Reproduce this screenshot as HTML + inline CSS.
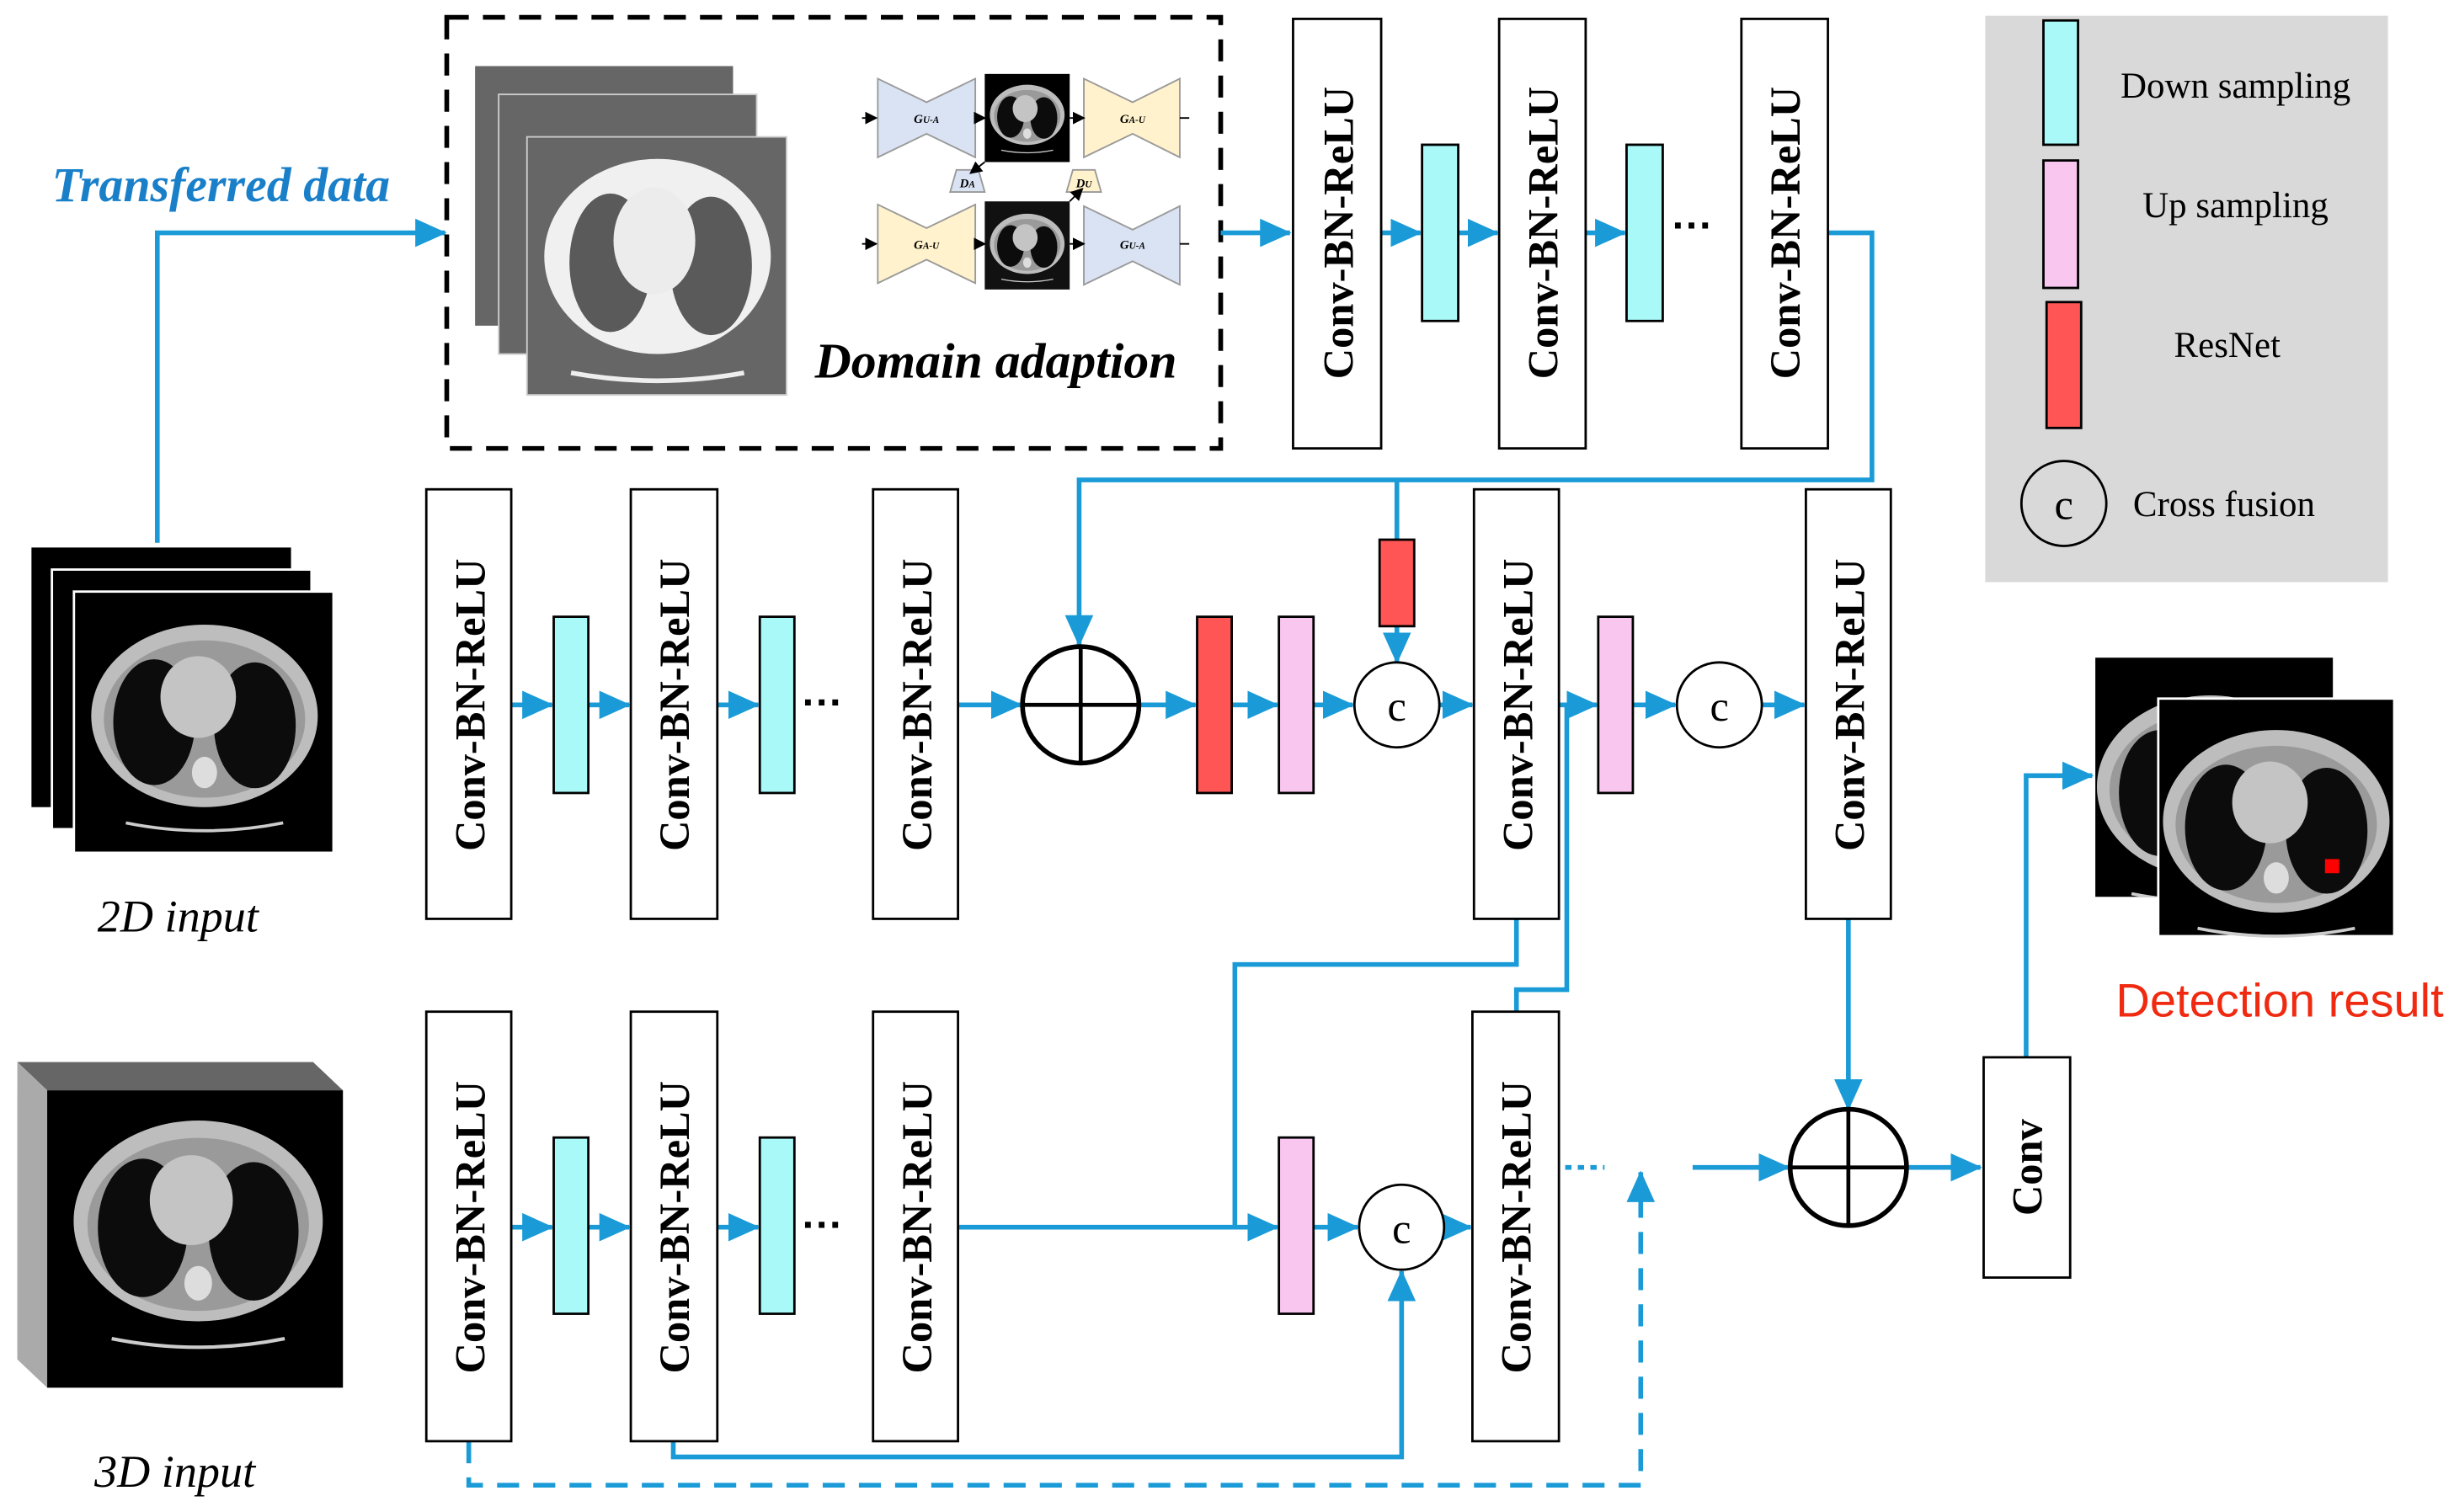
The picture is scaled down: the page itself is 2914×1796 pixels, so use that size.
<!DOCTYPE html>
<html><head><meta charset="utf-8"><style>
html,body{margin:0;padding:0;background:#fff}
svg{display:block}
.t{font-family:"Liberation Serif",serif}
.cb{font-family:"Liberation Serif",serif;font-weight:bold;font-size:27px}
</style></head><body>
<svg width="2914" height="1796" viewBox="0 0 1560 961" preserveAspectRatio="none" xmlns="http://www.w3.org/2000/svg">
<defs>
<marker id="a" markerWidth="10" markerHeight="10" refX="9" refY="5" orient="auto" markerUnits="userSpaceOnUse"><path d="M0,0 L10,5 L0,10 z" fill="#1a9bd7"/></marker>
<marker id="A" markerWidth="20" markerHeight="20" refX="19" refY="10" orient="auto" markerUnits="userSpaceOnUse"><path d="M0,1 L20,10 L0,19 z" fill="#1a9bd7"/></marker>
<marker id="k" markerWidth="8" markerHeight="8" refX="7" refY="4" orient="auto" markerUnits="userSpaceOnUse"><path d="M0,0 L8,4 L0,8 z" fill="#000"/></marker>
<g id="ct">
<ellipse cx="0" cy="0" rx="72" ry="58" fill="#bdbdbd"/>
<ellipse cx="0" cy="2" rx="64" ry="50" fill="#9a9a9a"/>
<ellipse cx="-32" cy="4" rx="26" ry="40" fill="#0c0c0c"/>
<ellipse cx="32" cy="6" rx="26" ry="40" fill="#0c0c0c"/>
<ellipse cx="-4" cy="-12" rx="24" ry="26" fill="#c4c4c4"/>
<ellipse cx="0" cy="36" rx="8" ry="10" fill="#ddd"/>
<path d="M-50,68 Q0,78 50,68" stroke="#ccc" stroke-width="2" fill="none"/>
</g>
<g id="ctl">
<ellipse cx="0" cy="0" rx="72" ry="62" fill="#f0f0f0"/>
<ellipse cx="-30" cy="4" rx="26" ry="44" fill="#5a5a5a"/>
<ellipse cx="34" cy="6" rx="26" ry="44" fill="#5a5a5a"/>
<ellipse cx="-2" cy="-10" rx="26" ry="34" fill="#ececec"/>
<path d="M-55,74 Q0,84 55,74" stroke="#eee" stroke-width="3" fill="none"/>
</g>
</defs>

<!-- Transferred data -->
<text x="33" y="128" class="t" font-size="31" font-style="italic" font-weight="bold" fill="#1a7fc9">Transferred data</text>
<path d="M100,345 V148 H283" stroke="#1a9bd7" stroke-width="3" fill="none" marker-end="url(#A)"/>

<!-- dashed box -->
<rect x="284" y="11" width="492" height="274" fill="none" stroke="#000" stroke-width="3" stroke-dasharray="14,9"/>
<rect x="302" y="42" width="164" height="165" fill="#666"/>
<rect x="317" y="60" width="164" height="165" fill="#666" stroke="#ccc" stroke-width="1"/>
<rect x="335" y="87" width="165" height="164" fill="#666" stroke="#ccc" stroke-width="1"/>
<clipPath id="c1"><rect x="335" y="87" width="165" height="164"/></clipPath>
<g clip-path="url(#c1)"><use href="#ctl" transform="translate(418,163)"/></g>

<!-- mini GAN -->
<g stroke="#999" stroke-width="1">
<path d="M558,50 L589,65 L620,50 L620,100 L589,85 L558,100 Z" fill="#dae3f3"/>
<path d="M689,50 L720,65 L750,50 L750,100 L720,85 L689,100 Z" fill="#fff2cc"/>
<path d="M558,130 L589,145 L620,130 L620,180 L589,165 L558,180 Z" fill="#fff2cc"/>
<path d="M689,131 L720,146 L750,131 L750,181 L720,166 L689,181 Z" fill="#dae3f3"/>
<path d="M608,108 L622,108 L626,122 L604,122 Z" fill="#dae3f3"/>
<path d="M682,108 L696,108 L700,122 L678,122 Z" fill="#fff2cc"/>
</g>
<rect x="626" y="47" width="54" height="56" fill="#000"/>
<rect x="626" y="128" width="54" height="56" fill="#111"/>
<g transform="translate(653,73) scale(0.33)"><use href="#ct"/></g>
<g transform="translate(653,155) scale(0.33)"><use href="#ct"/></g>
<g class="t" font-size="8" font-style="italic" font-weight="bold" text-anchor="middle">
<text x="589" y="78">G<tspan font-size="6">U-A</tspan></text>
<text x="720" y="78">G<tspan font-size="6">A-U</tspan></text>
<text x="589" y="158">G<tspan font-size="6">A-U</tspan></text>
<text x="720" y="158">G<tspan font-size="6">U-A</tspan></text>
<text x="615" y="119">D<tspan font-size="6">A</tspan></text>
<text x="689" y="119">D<tspan font-size="6">U</tspan></text>
</g>
<g stroke="#000" stroke-width="1" fill="none">
<path d="M548,75 H557" marker-end="url(#k)"/><path d="M620,75 H626" marker-end="url(#k)"/><path d="M680,75 H689" marker-end="url(#k)"/><path d="M750,75 H756"/>
<path d="M548,155 H557" marker-end="url(#k)"/><path d="M620,155 H626" marker-end="url(#k)"/><path d="M680,155 H689" marker-end="url(#k)"/><path d="M750,155 H756"/>
<path d="M626,103 L617,110" marker-end="url(#k)"/><path d="M680,128 L688,120" marker-end="url(#k)"/>
</g>
<text x="518" y="240" class="t" font-size="32" font-style="italic" font-weight="bold">Domain adaption</text>

<!-- top row -->
<g stroke="#1a9bd7" stroke-width="3" fill="none">
<path d="M776,148 H820" marker-end="url(#A)"/>
<path d="M878,148 H903" marker-end="url(#A)"/>
<path d="M927,148 H952" marker-end="url(#A)"/>
<path d="M1008,148 H1033" marker-end="url(#A)"/>
<path d="M1162,148 H1190 V305 H686 V410" marker-end="url(#A)"/>
<path d="M888,305 V343"/>
<path d="M888,398 V421" marker-end="url(#A)"/>
</g>
<g fill="#fff" stroke="#000" stroke-width="1.5">
<rect x="822" y="12" width="56" height="273"/>
<rect x="953" y="12" width="55" height="273"/>
<rect x="1107" y="12" width="55" height="273"/>
</g>
<rect x="904" y="92" width="23" height="112" fill="#aaf9f9" stroke="#000" stroke-width="1.5"/>
<rect x="1034" y="92" width="23" height="112" fill="#aaf9f9" stroke="#000" stroke-width="1.5"/>
<text x="1063" y="152" font-family="Liberation Sans" font-weight="bold" font-size="26">···</text>

<!-- middle row -->
<g stroke="#1a9bd7" stroke-width="3" fill="none">
<path d="M325,448 H351" marker-end="url(#A)"/>
<path d="M374,448 H400" marker-end="url(#A)"/>
<path d="M456,448 H482" marker-end="url(#A)"/>
<path d="M609,448 H649" marker-end="url(#A)"/>
<path d="M724,448 H760" marker-end="url(#A)"/>
<path d="M783,448 H812" marker-end="url(#A)"/>
<path d="M835,448 H860" marker-end="url(#A)"/>
<path d="M915,448 H936" marker-end="url(#A)"/>
<path d="M991,448 H1015" marker-end="url(#A)"/>
<path d="M1038,448 H1065" marker-end="url(#A)"/>
<path d="M1120,448 H1147" marker-end="url(#A)"/>
<path d="M964,584 V613 H785 V780"/>
<path d="M964,643 V629 H996 V448"/>
<path d="M1175,584 V705" marker-end="url(#A)"/>
</g>
<g fill="#fff" stroke="#000" stroke-width="1.5">
<rect x="271" y="311" width="54" height="273"/>
<rect x="401" y="311" width="55" height="273"/>
<rect x="555" y="311" width="54" height="273"/>
<rect x="937" y="311" width="54" height="273"/>
<rect x="1148" y="311" width="54" height="273"/>
</g>
<rect x="352" y="392" width="22" height="112" fill="#aaf9f9" stroke="#000" stroke-width="1.5"/>
<rect x="483" y="392" width="22" height="112" fill="#aaf9f9" stroke="#000" stroke-width="1.5"/>
<text x="510" y="455" font-family="Liberation Sans" font-weight="bold" font-size="26">···</text>
<circle cx="687" cy="448" r="37" fill="#fff" stroke="#000" stroke-width="3"/>
<path d="M650,448 H724 M687,411 V485" stroke="#000" stroke-width="2.5"/>
<rect x="761" y="392" width="22" height="112" fill="#ff5555" stroke="#000" stroke-width="1.5"/>
<rect x="877" y="343" width="22" height="55" fill="#ff5555" stroke="#000" stroke-width="1.5"/>
<rect x="813" y="392" width="22" height="112" fill="#f9c6ef" stroke="#000" stroke-width="1.5"/>
<rect x="1016" y="392" width="22" height="112" fill="#f9c6ef" stroke="#000" stroke-width="1.5"/>
<circle cx="888" cy="448" r="27" fill="#fff" stroke="#000" stroke-width="1.5"/>
<circle cx="1093" cy="448" r="27" fill="#fff" stroke="#000" stroke-width="1.5"/>
<text x="888" y="458" class="t" font-size="27" text-anchor="middle">c</text>
<text x="1093" y="458" class="t" font-size="27" text-anchor="middle">c</text>

<!-- bottom row -->
<g stroke="#1a9bd7" stroke-width="3" fill="none">
<path d="M325,780 H351" marker-end="url(#A)"/>
<path d="M374,780 H400" marker-end="url(#A)"/>
<path d="M456,780 H482" marker-end="url(#A)"/>
<path d="M609,780 H812" marker-end="url(#A)"/>
<path d="M835,780 H863" marker-end="url(#A)"/>
<path d="M918,780 H935" marker-end="url(#A)"/>
<path d="M428,916 V926 H891 V808" marker-end="url(#A)"/>
<path d="M298,916 V944 H1043 V745" stroke-dasharray="14,9" marker-end="url(#A)"/>
<path d="M995,742 H1020" stroke-dasharray="4,4"/>
<path d="M1076,742 H1137" marker-end="url(#A)"/>
<path d="M1212,742 H1259" marker-end="url(#A)"/>
<path d="M1288,672 V493 H1330" marker-end="url(#A)"/>
</g>
<g fill="#fff" stroke="#000" stroke-width="1.5">
<rect x="271" y="643" width="54" height="273"/>
<rect x="401" y="643" width="55" height="273"/>
<rect x="555" y="643" width="54" height="273"/>
<rect x="936" y="643" width="55" height="273"/>
<rect x="1261" y="672" width="55" height="140"/>
</g>
<rect x="352" y="723" width="22" height="112" fill="#aaf9f9" stroke="#000" stroke-width="1.5"/>
<rect x="483" y="723" width="22" height="112" fill="#aaf9f9" stroke="#000" stroke-width="1.5"/>
<text x="510" y="787" font-family="Liberation Sans" font-weight="bold" font-size="26">···</text>
<rect x="813" y="723" width="22" height="112" fill="#f9c6ef" stroke="#000" stroke-width="1.5"/>
<circle cx="891" cy="780" r="27" fill="#fff" stroke="#000" stroke-width="1.5"/>
<text x="891" y="790" class="t" font-size="27" text-anchor="middle">c</text>
<circle cx="1175" cy="742" r="37" fill="#fff" stroke="#000" stroke-width="3"/>
<path d="M1138,742 H1212 M1175,705 V779" stroke="#000" stroke-width="2.5"/>

<!-- rotated labels -->
<g class="cb">
<text transform="translate(308,448) rotate(-90)" text-anchor="middle">Conv-BN-ReLU</text>
<text transform="translate(438,448) rotate(-90)" text-anchor="middle">Conv-BN-ReLU</text>
<text transform="translate(592,448) rotate(-90)" text-anchor="middle">Conv-BN-ReLU</text>
<text transform="translate(974,448) rotate(-90)" text-anchor="middle">Conv-BN-ReLU</text>
<text transform="translate(1185,448) rotate(-90)" text-anchor="middle">Conv-BN-ReLU</text>
<text transform="translate(308,780) rotate(-90)" text-anchor="middle">Conv-BN-ReLU</text>
<text transform="translate(438,780) rotate(-90)" text-anchor="middle">Conv-BN-ReLU</text>
<text transform="translate(592,780) rotate(-90)" text-anchor="middle">Conv-BN-ReLU</text>
<text transform="translate(973,780) rotate(-90)" text-anchor="middle">Conv-BN-ReLU</text>
<text transform="translate(860,148) rotate(-90)" text-anchor="middle">Conv-BN-ReLU</text>
<text transform="translate(990,148) rotate(-90)" text-anchor="middle">Conv-BN-ReLU</text>
<text transform="translate(1144,148) rotate(-90)" text-anchor="middle">Conv-BN-ReLU</text>
<text transform="translate(1298,742) rotate(-90)" text-anchor="middle">Conv</text>
</g>

<!-- 2D input -->
<rect x="20" y="348" width="165" height="165" fill="#000"/>
<rect x="33" y="362" width="165" height="165" fill="#000" stroke="#fff" stroke-width="1.5"/>
<rect x="47" y="376" width="165" height="166" fill="#000" stroke="#fff" stroke-width="1.5"/>
<use href="#ct" transform="translate(130,455)"/>
<text x="62" y="592" class="t" font-size="29" font-style="italic">2D input</text>

<!-- 3D input -->
<path d="M11,675 L199,675 L218,693 L30,693 Z" fill="#666"/>
<path d="M11,675 L30,693 L30,882 L11,864 Z" fill="#aaa"/>
<rect x="30" y="693" width="188" height="189" fill="#000"/>
<use href="#ct" transform="translate(126,776) scale(1.1)"/>
<text x="60" y="945" class="t" font-size="29" font-style="italic">3D input</text>

<!-- result -->
<rect x="1332" y="418" width="151" height="152" fill="#000"/>
<clipPath id="c2"><rect x="1332" y="418" width="151" height="152"/></clipPath>
<g clip-path="url(#c2)"><use href="#ct" transform="translate(1405,500)"/></g>
<rect x="1372" y="444" width="150" height="151" fill="#000" stroke="#fff" stroke-width="1.5"/>
<use href="#ct" transform="translate(1447,522)"/>
<rect x="1478" y="546" width="9" height="9" fill="#f00"/>
<text x="1345" y="646" font-family="Liberation Sans" font-size="30" fill="#f02a10">Detection result</text>

<!-- legend -->
<rect x="1262" y="10" width="256" height="360" fill="#d9d9d9"/>
<rect x="1299" y="13" width="22" height="79" fill="#aaf9f9" stroke="#000" stroke-width="1.5"/>
<rect x="1299" y="102" width="22" height="81" fill="#f9c6ef" stroke="#000" stroke-width="1.5"/>
<rect x="1301" y="192" width="22" height="80" fill="#ff5555" stroke="#000" stroke-width="1.5"/>
<circle cx="1312" cy="320" r="27" fill="#d9d9d9" stroke="#000" stroke-width="1.5"/>
<g class="t" font-size="23">
<text x="1348" y="62">Down sampling</text>
<text x="1362" y="138">Up sampling</text>
<text x="1382" y="227">ResNet</text>
<text x="1312" y="330" text-anchor="middle" font-size="27">c</text>
<text x="1356" y="328">Cross fusion</text>
</g>
</svg>
</body></html>
